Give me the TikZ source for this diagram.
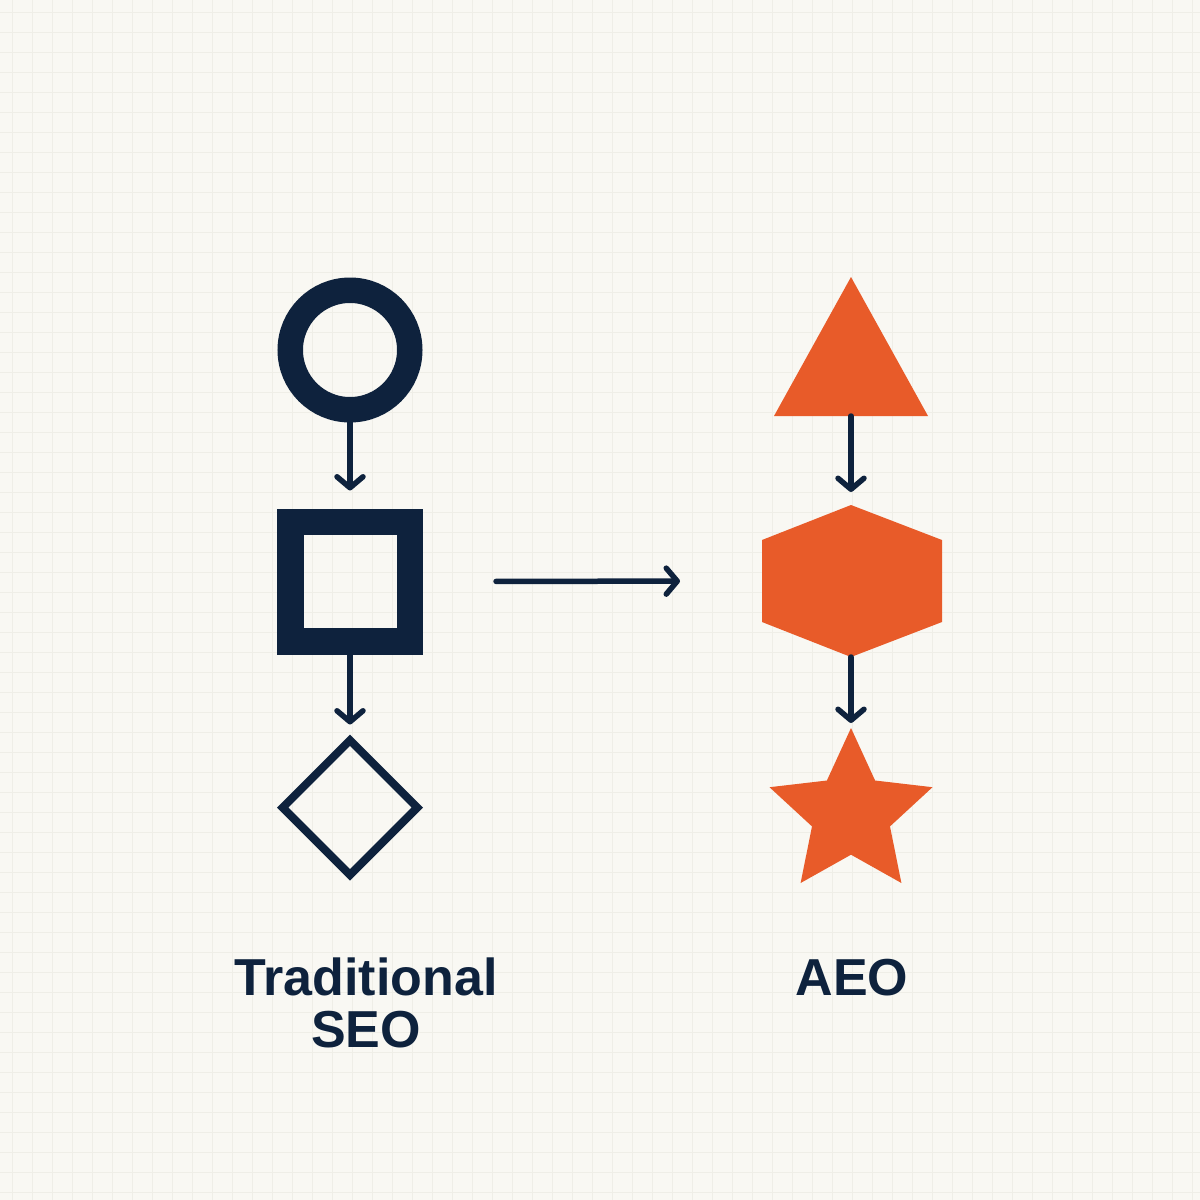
\documentclass[tikz,border=0pt]{standalone}
\usepackage{fontspec}
\setmainfont{Liberation Sans}
\usetikzlibrary{arrows.meta,shapes.geometric}
\definecolor{bgc}{HTML}{F9F8F3}
\definecolor{gridc}{HTML}{EFEEE7}
\definecolor{navy}{HTML}{0E223D}
\definecolor{orng}{HTML}{E85B29}
\tikzset{
  flowarrow/.style={draw=navy, line width=5.5pt, line cap=round,
    -{Straight Barb[length=11pt, width=26pt, line width=5.5pt, round]}},
  ringshape/.style={draw=navy, line width=25.5pt, fill=none, inner sep=0pt},
  orangeshape/.style={fill=orng, draw=none},
  gridline/.style={draw=gridc, line width=1pt},
  lbl/.style={text=navy, font=\fontsize{52}{52}\selectfont\bfseries, inner sep=0pt, align=center}
}
\begin{document}
\begin{tikzpicture}[x=1pt, y=-1pt]
\useasboundingbox (0,0) rectangle (1200,1200);
\fill[bgc] (0,0) rectangle (1200,1200);
\foreach \v in {12,32,...,1200} {\draw[gridline] (\v,0) -- (\v,1200); \draw[gridline] (0,\v) -- (1200,\v);}

% left column
\node[ringshape, circle, minimum size=119.5pt] (c) at (350,350) {};
\node[ringshape, rectangle, line width=26.5pt, minimum size=119.5pt] (s) at (350,581.5) {};
\node[draw=navy, line width=8pt, diamond, aspect=1, inner sep=0pt, minimum size=138pt] (d) at (350,807.5) {};

% right column shapes
\fill[orangeshape] (851,277) -- (928,416) -- (774,416) -- cycle;
\coordinate (tb) at (851,416);
\fill[orangeshape] (851,505) -- (942,540) -- (942,622) -- (851,657) -- (762,622) -- (762,540) -- cycle;
\coordinate (ht) at (851,505);
\coordinate (hb) at (851,657);
\coordinate (hw) at (762,581);
\fill[orangeshape, shift={(851,813.7)}]
  (0,-85.7) -- (24.1,-33.2) -- (81.5,-26.5) -- (39.0,12.7) -- (50.4,69.3)
  -- (0,41) -- (-50.4,69.3) -- (-39.0,12.7) -- (-81.5,-26.5) -- (-24.1,-33.2) -- cycle;
\coordinate (st) at (851,728);

% connectors
\draw[flowarrow, shorten >=18pt] (c.south) -- (s.north);
\draw[flowarrow, shorten >=10pt] (s.south) -- (d.north);
\draw[flowarrow, shorten >=13pt] (tb) -- (ht);
\draw[flowarrow, shorten >=5pt] (hb) -- (st);
\draw[flowarrow, shorten <=73pt, shorten >=82pt] (s.east) -- (hw);

% labels
\node[lbl, anchor=base] (l1) at (366,1047) {Traditional\\SEO};
\node[lbl, anchor=base] (l2) at (852,995) {AEO};
\end{tikzpicture}
\end{document}
